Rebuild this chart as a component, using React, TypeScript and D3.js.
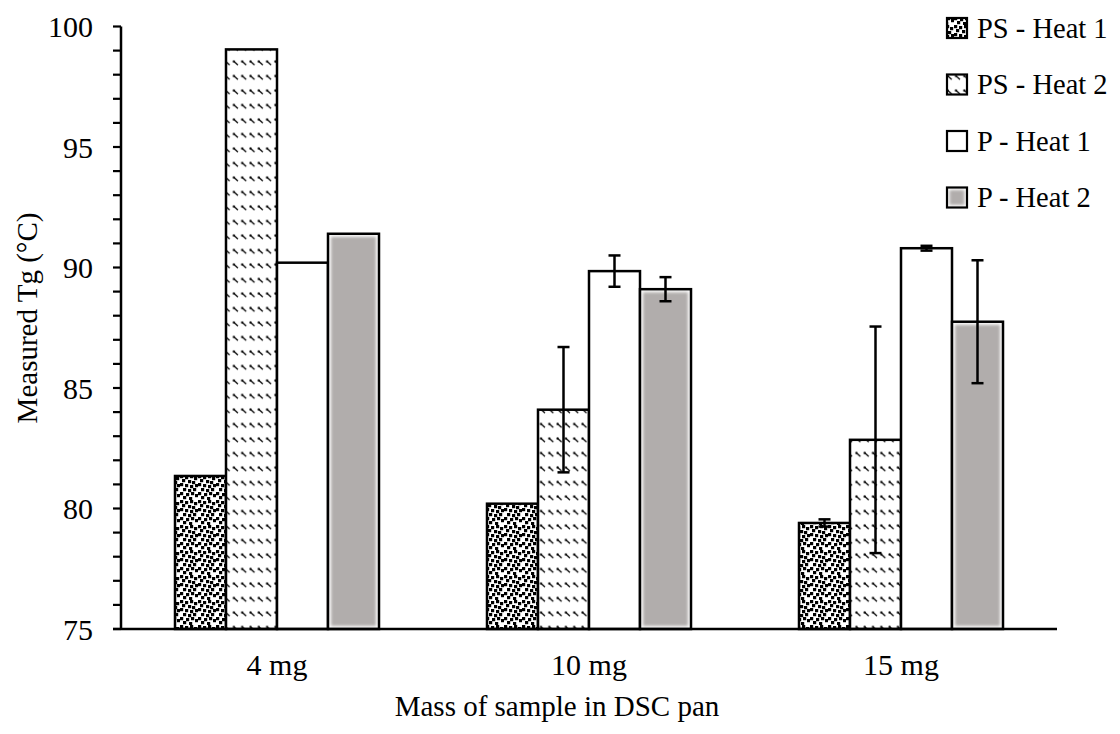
import React from "react";
import * as d3 from "d3";

const categories = ["4 mg", "10 mg", "15 mg"];
const seriesNames = ["PS - Heat 1", "PS - Heat 2", "P - Heat 1", "P - Heat 2"];
const psHeat1 = [81.35, 80.2, 79.4];
const psHeat1Err = [0, 0, 0.15];
const psHeat2 = [99.05, 84.1, 82.85];
const psHeat2Err = [0, 2.6, 4.7];
const pHeat1 = [90.2, 89.85, 90.8];
const pHeat1Err = [0, 0.65, 0.1];
const pHeat2 = [91.4, 89.1, 87.75];
const pHeat2Err = [0, 0.5, 2.55];
const yTicks = [75, 80, 85, 90, 95, 100];

const values = [psHeat1, psHeat2, pHeat1, pHeat2];
const errors = [psHeat1Err, psHeat2Err, pHeat1Err, pHeat2Err];
const fills = ["url(#confetti)", "url(#dashes)", "#ffffff", "gray"];

const W = 1120, H = 734;
const left = 121, right = 1057, top = 26.5, bottom = 629;
const FONT = "'Liberation Serif', 'Times New Roman', serif";

// confetti squares layout for pattern (style only)
const confettiCells: [number, number][] = [
  [0, 0], [5, 1], [10, 0], [14, 2], [2, 4], [8, 5], [12, 6], [0, 8], [5, 9], [10, 10],
  [15, 9], [3, 13], [8, 14], [13, 13], [0, 17], [6, 18], [11, 17], [15, 19], [3, 21], [9, 22],
];

export default function App() {
  const x0 = d3.scaleBand<string>().domain(categories).range([left, right]);
  const bw = x0.bandwidth();
  const barW = 51;
  const pOuter = (bw / barW - seriesNames.length) / 2;
  const x1 = d3.scaleBand<string>().domain(seriesNames).range([0, bw]).paddingInner(0).paddingOuter(pOuter);
  const y = d3.scaleLinear().domain([75, 100]).range([bottom, top]);
  const minor = d3.range(75, 100.001, 1);

  return (
    <svg width={W} height={H} style={{ display: "block", position: "absolute", left: 0, top: 0 }}>
      <defs>
        <pattern id="confetti" patternUnits="userSpaceOnUse" width="18" height="25">
          <rect width="18" height="25" fill="#fff" />
          {confettiCells.map(([cx, cy], i) => (
            <rect key={i} x={cx} y={cy} width="3.2" height="3.2" fill="#000" />
          ))}
        </pattern>
        <pattern id="dashes" patternUnits="userSpaceOnUse" width="8.3" height="14.5">
          <rect width="8.3" height="14.5" fill="#fff" />
          <path d="M1,3 L5.5,7" stroke="#000" strokeWidth="1.3" />
          <rect x="0.5" y="2.5" width="2" height="2" fill="#000" />
        </pattern>
        <filter id="soft" x="-10%" y="-10%" width="120%" height="120%">
          <feGaussianBlur stdDeviation="1.6" />
        </filter>
      </defs>
      <rect width={W} height={H} fill="#fff" />

      {/* bars */}
      {categories.map((c, ci) =>
        seriesNames.map((s, si) => {
          const bx = (x0(c) as number) + (x1(s) as number);
          const v = values[si][ci];
          const by = y(v);
          const bh = bottom - by;
          return (
            <g key={c + s}>
              {si === 3 ? (
                <>
                  <rect x={bx} y={by} width={barW} height={bh} fill="#fff" />
                  <rect x={bx + 3} y={by + 3} width={barW - 6} height={bh - 6} fill="#b1adac" filter="url(#soft)" />
                  <rect x={bx} y={by} width={barW} height={bh} fill="none" stroke="#000" strokeWidth={2.5} />
                </>
              ) : (
                <rect x={bx} y={by} width={barW} height={bh} fill={fills[si]} stroke="#000" strokeWidth={2.5} />
              )}
            </g>
          );
        })
      )}

      {/* error bars */}
      {categories.map((c, ci) =>
        seriesNames.map((s, si) => {
          const e = errors[si][ci];
          if (!e) return null;
          const cx = (x0(c) as number) + (x1(s) as number) + barW / 2;
          const v = values[si][ci];
          const y1 = y(v + e), y2 = y(v - e);
          return (
            <g key={"e" + c + s} stroke="#000" strokeWidth={2.5}>
              <line x1={cx} x2={cx} y1={y1} y2={y2} />
              <line x1={cx - 6} x2={cx + 6} y1={y1} y2={y1} />
              <line x1={cx - 6} x2={cx + 6} y1={y2} y2={y2} />
            </g>
          );
        })
      )}

      {/* axes */}
      <line x1={left} x2={left} y1={top} y2={bottom} stroke="#000" strokeWidth={2.5} />
      <line x1={left - 8} x2={right} y1={bottom} y2={bottom} stroke="#000" strokeWidth={2.5} />
      {minor.map((t) => (
        <line key={t} x1={left - 8} x2={left} y1={y(t)} y2={y(t)} stroke="#000" strokeWidth={2.2} />
      ))}
      {yTicks.map((t) => (
        <text key={t} x={93} y={y(t)} dy="0.35em" textAnchor="end" fontFamily={FONT} fontSize={30} fill="#000">
          {t}
        </text>
      ))}
      {categories.map((c) => (
        <text key={c} x={(x0(c) as number) + bw / 2} y={675} textAnchor="middle" fontFamily={FONT} fontSize={30} fill="#000">
          {c}
        </text>
      ))}
      <text x={557} y={716} textAnchor="middle" fontFamily={FONT} fontSize={29} fill="#000">
        Mass of sample in DSC pan
      </text>
      <text transform="translate(37,318) rotate(-90)" textAnchor="middle" fontFamily={FONT} fontSize={29} fill="#000">
        Measured Tg (°C)
      </text>

      {/* legend */}
      {seriesNames.map((s, i) => {
        const ly = 28 + i * 56.5;
        return (
          <g key={s}>
            {i === 3 ? (
              <>
                <rect x={947} y={ly - 10} width={20} height={20} fill="#fff" />
                <rect x={949.5} y={ly - 7.5} width={15} height={15} fill="#b1adac" filter="url(#soft)" />
                <rect x={947} y={ly - 10} width={20} height={20} fill="none" stroke="#000" strokeWidth={2.2} />
              </>
            ) : (
              <rect x={947} y={ly - 10} width={20} height={20} fill={fills[i]} stroke="#000" strokeWidth={2.2} />
            )}
            <text x={977} y={ly} dy="0.35em" fontFamily={FONT} fontSize={28.5} fill="#000">
              {s}
            </text>
          </g>
        );
      })}
    </svg>
  );
}
